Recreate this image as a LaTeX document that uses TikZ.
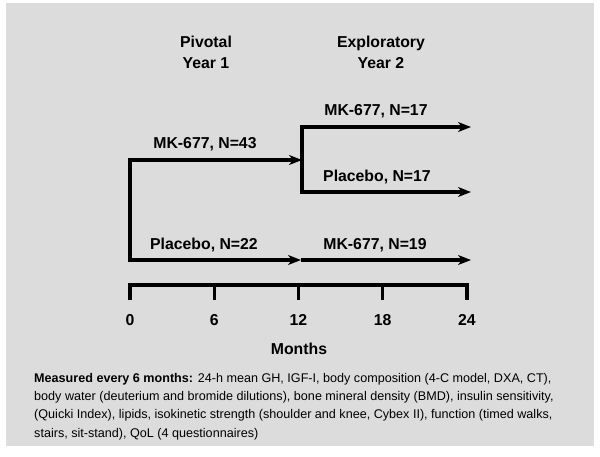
\documentclass[tikz,border=0pt]{standalone}
\usepackage{fontspec}
\setmainfont{Liberation Sans}
\usepackage{tikz}
\usetikzlibrary{arrows.meta}
\usepackage{xcolor}
\definecolor{panelgray}{HTML}{DCDCDC}

\begin{document}
\begin{tikzpicture}[x=1pt, y=-1pt,
    arm/.style={line width=3.4pt, color=black, miter limit=10},
    tip/.style={-{Stealth[length=13pt, width=10pt, inset=4pt]}},
    armlbl/.style={font=\fontsize{15.8}{18}\selectfont\bfseries, inner sep=0pt},
    hdr/.style={font=\fontsize{15.8}{21}\selectfont\bfseries, align=center, inner sep=0pt},
    tick/.style={font=\fontsize{15.8}{18}\selectfont\bfseries, inner sep=0pt},
]
\useasboundingbox (0,0) rectangle (600,456);
\fill[panelgray] (6,3) rectangle (594,446);

% headers
\node[hdr] (piv) at (206,52) {Pivotal\\Year 1};
\node[hdr] (exp) at (381,52) {Exploratory\\Year 2};

% arm coordinates
\coordinate (r0) at (130,160);
\coordinate (r1) at (130,260);
\coordinate (m0) at (302,160);
\coordinate (mtop) at (302,127);
\coordinate (mbot) at (302,192);
\coordinate (m1) at (301,260);
\coordinate (e1) at (471,127);
\coordinate (e2) at (471,192);
\coordinate (e3) at (471,260);

\draw[arm, {Stealth[length=13pt, width=10pt, inset=4pt]}-{Stealth[length=13pt, width=10pt, inset=4pt]}] (m0) -- (r0) -- (r1) -- (m1);
\draw[arm, {Stealth[length=13pt, width=10pt, inset=4pt]}-{Stealth[length=13pt, width=10pt, inset=4pt]}] (e1) -- (mtop) -- (mbot) -- (e2);
\draw[arm, tip] (m1) -- (e3);

\node[armlbl] (a17) at (376,111) {MK-677, N=17};
\node[armlbl] (a43) at (205,144) {MK-677, N=43};
\node[armlbl] (p17) at (377,177) {Placebo, N=17};
\node[armlbl] (p22) at (204,245) {Placebo, N=22};
\node[armlbl] (a19) at (375,245) {MK-677, N=19};

% time axis
\draw[arm] (130,300) -- (130,285) -- (467,285) -- (467,300);
\foreach \m in {6,12,18}
  \draw[arm] ({130+14.04*\m},285) -- ({130+14.04*\m},300);
\foreach \m in {0,6,12,18,24}
  \node[tick] (t\m) at ({130+14.04*\m},320) {\m};
\node[tick] (months) at (299,349) {Months};

% measurements note
\node[anchor=north west, align=left, inner sep=0pt,
      font=\fontsize{12.6}{18.3}\selectfont] (note) at (34,373)
  {\textbf{Measured every 6 months:} 24-h mean GH, IGF-I, body composition (4-C model, DXA, CT),\\
   body water (deuterium and bromide dilutions), bone mineral density (BMD), insulin sensitivity,\\
   (Quicki Index), lipids, isokinetic strength (shoulder and knee, Cybex II), function (timed walks,\\
   stairs, sit-stand), QoL (4 questionnaires)};
\end{tikzpicture}
\end{document}
